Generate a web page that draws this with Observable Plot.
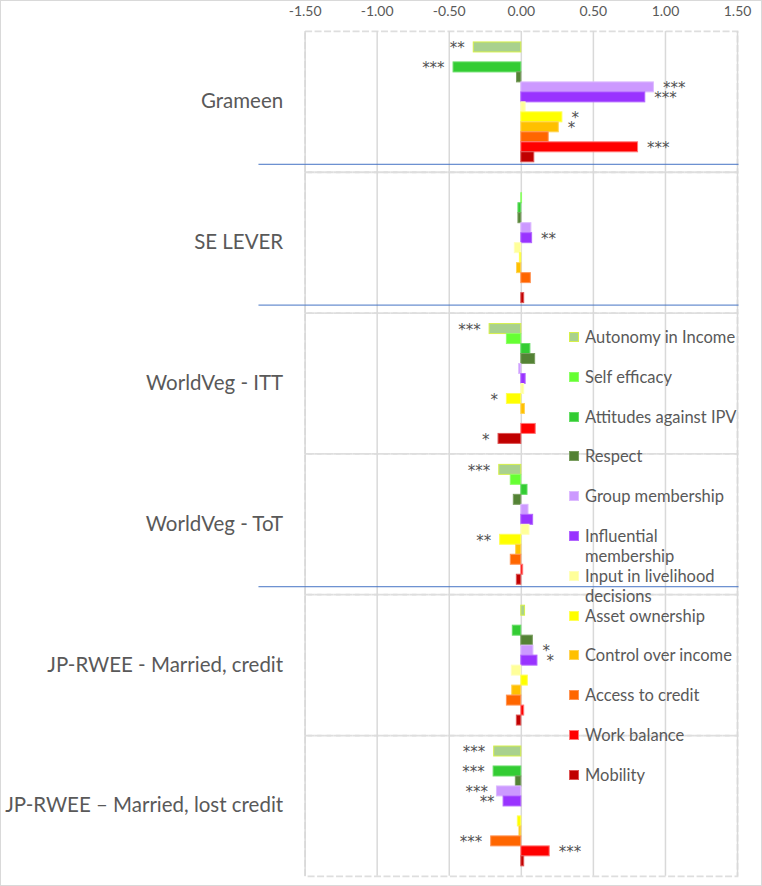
<!DOCTYPE html>
<html><head><meta charset="utf-8">
<script src="https://cdn.jsdelivr.net/npm/d3@7"></script>
<script src="https://cdn.jsdelivr.net/npm/@observablehq/plot@0.6"></script>
<style>
body{margin:0;background:#fff;}
#wrap{position:relative;width:762px;height:886px;box-sizing:border-box;border:1px solid #d9d9d9;overflow:hidden;font-family:Lato, sans-serif;}
#chart{position:absolute;left:-1px;top:-1px;}
#legend{position:absolute;left:568px;top:326px;width:180px;color:#595959;font-size:16.5px;font-family:Lato, sans-serif;}
.item{position:relative;height:39.8px;}
.sw{position:absolute;left:0;top:5px;width:10px;height:10px;box-sizing:border-box;}
.lab{position:absolute;left:16px;top:0;line-height:20px;width:158px;}
</style></head><body>
<div id="wrap"><div id="chart"></div><div id="legend"></div></div>
<script>
const groups = ["Grameen", "SE LEVER", "WorldVeg - ITT", "WorldVeg - ToT", "JP-RWEE - Married, credit", "JP-RWEE – Married, lost credit"];
const series = ["Autonomy in Income", "Self efficacy", "Attitudes against IPV", "Respect", "Group membership", "Influential membership", "Input in livelihood decisions", "Asset ownership", "Control over income", "Access to credit", "Work balance", "Mobility"];
const colors = ["#A9D18E", "#66FF33", "#33CC33", "#548235", "#CC99FF", "#9933FF", "#FFFF99", "#FFFF00", "#FFC000", "#FF6600", "#FF0000", "#C00000"];
const strokes = ["#D6F04A", "#8CFF66", "#66DD66", "#7A9E60", "#DDBBFF", "#B266FF", "#FFFFBB", "#FFFF55", "#FFD455", "#FF9455", "#FF7777", "#DD5555"];

const grameenValues  = [-0.33, 0, -0.47, -0.03, 0.92, 0.86, 0.03, 0.285, 0.26, 0.19, 0.81, 0.09];
const seLeverValues  = [0, 0.005, -0.02, -0.02, 0.07, 0.075, -0.045, -0.01, -0.03, 0.066, 0, 0.02];
const ittValues      = [-0.22, -0.10, 0.063, 0.096, -0.015, 0.03, 0.02, -0.10, 0.025, 0, 0.10, -0.158];
const totValues      = [-0.153, -0.073, 0.043, -0.052, 0.05, 0.082, 0.057, -0.147, -0.036, -0.073, 0.013, -0.031];
const creditValues   = [0.026, 0, -0.059, 0.08, 0.084, 0.112, -0.066, 0.045, -0.063, -0.10, 0.02, -0.031];
const lostValues     = [-0.188, 0, -0.192, -0.038, -0.169, -0.123, 0, -0.024, -0.013, -0.209, 0.197, 0.02];

const grameenStars = ["**", "", "***", "", "***", "***", "", "*", "*", "", "***", ""];
const seLeverStars = ["", "", "", "", "", "**", "", "", "", "", "", ""];
const ittStars     = ["***", "", "", "", "", "", "", "*", "", "", "", "*"];
const totStars     = ["***", "", "", "", "", "", "", "**", "", "", "", ""];
const creditStars  = ["", "", "", "", "*", "*", "", "", "", "", "", ""];
const lostStars    = ["***", "", "***", "", "***", "**", "", "", "", "***", "***", ""];

const xTicks = [-1.5, -1, -0.5, 0, 0.5, 1, 1.5];
const separatorsAfter = ["Grameen", "SE LEVER", "WorldVeg - ToT"];

const allValues = [grameenValues, seLeverValues, ittValues, totValues, creditValues, lostValues];
const allStars = [grameenStars, seLeverStars, ittStars, totStars, creditStars, lostStars];

const data = [];
groups.forEach((g, gi) => series.forEach((s, si) => data.push({
  group: g, series: s, value: allValues[gi][si], stars: allStars[gi][si], color: colors[si], stroke: strokes[si]
})));

const starStyle = {x: "value", y: "series", fy: "group", text: "stars", dy: 1, fontSize: 15, fontFamily: "DejaVu Sans", fill: "#505050"};

const plot = Plot.plot({
  width: 762, height: 886,
  marginTop: 30, marginBottom: 9, marginLeft: 305, marginRight: 24,
  style: {fontFamily: "Lato, sans-serif", color: "#595959", background: "transparent"},
  x: {domain: [-1.5, 1.5]},
  y: {domain: series, paddingInner: 0, paddingOuter: 1.05, axis: null},
  fy: {domain: groups, padding: 0},
  marks: [
    Plot.frame({stroke: "#dedede", strokeWidth: 1.8, strokeDasharray: "7,2.5"}),
    Plot.ruleX(xTicks, {stroke: "#d9d9d9", strokeWidth: 1.5}),
    Plot.barX(data, {x: "value", y: "series", fy: "group", fill: "color", stroke: "stroke", strokeWidth: 1}),
    Plot.text(data.filter(d => d.stars && d.value < 0), {...starStyle, textAnchor: "end", dx: -9}),
    Plot.text(data.filter(d => d.stars && d.value >= 0), {...starStyle, textAnchor: "start", dx: 9}),
    Plot.ruleY(separatorsAfter, {fy: d => d, y: () => series[series.length - 1], x1: -1.82, x2: 1.51, dy: 7, stroke: "#4472C4", strokeWidth: 1}),
    Plot.axisX(xTicks, {anchor: "top", tickSize: 0, tickPadding: 15, tickFormat: d => d.toFixed(2), fontSize: 14, label: null, fill: "#595959"}),
    Plot.axisFy({anchor: "left", tickSize: 0, tickPadding: 22, fontSize: 20.5, label: null, fill: "#595959"})
  ]
});
document.getElementById("chart").appendChild(plot);

const legend = document.getElementById("legend");
series.forEach((s, i) => {
  const item = document.createElement("div");
  item.className = "item";
  const sw = document.createElement("div");
  sw.className = "sw";
  sw.style.background = colors[i];
  sw.style.border = "1px solid " + strokes[i];
  const lab = document.createElement("div");
  lab.className = "lab";
  lab.textContent = s;
  item.appendChild(sw);
  item.appendChild(lab);
  legend.appendChild(item);
});
</script>
</body></html>
